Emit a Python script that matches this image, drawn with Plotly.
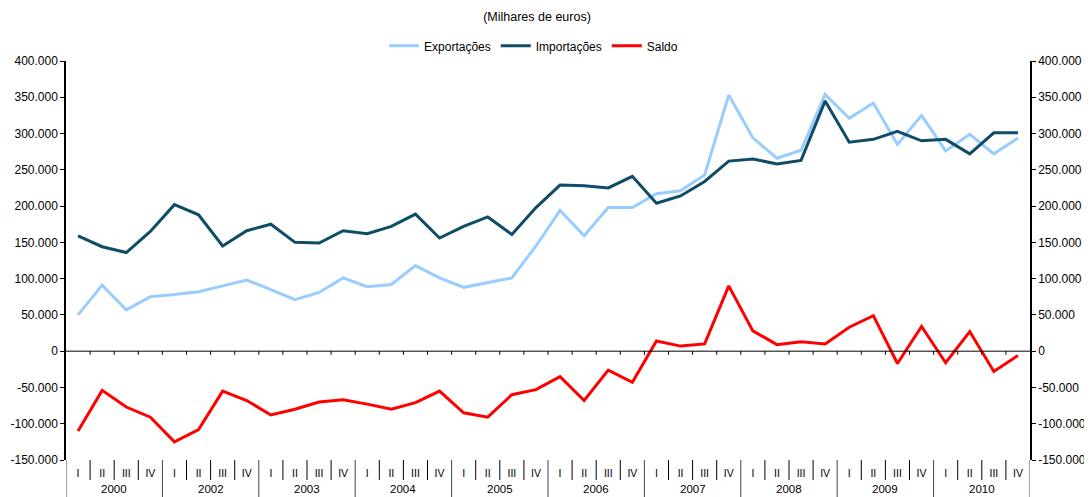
import plotly.graph_objects as go

# Quarterly trade values (thousands of euros)
years = ["2000", "2002", "2003", "2004", "2005", "2006", "2007", "2008", "2009", "2010"]
quarters = ["I", "II", "III", "IV"]

exportacoes = [50, 91, 57, 75, 78, 82, 90, 98, 85, 71,
               81, 101, 89, 92, 118, 101, 88, 94, 101, 145,
               194, 159, 198, 198, 217, 221, 243, 353, 294, 266,
               277, 354, 321, 342, 285, 325, 276, 299, 272, 294]
importacoes = [159, 144, 136, 165, 202, 188, 145, 166, 175, 150,
               149, 166, 162, 172, 189, 156, 172, 185, 161, 198,
               229, 228, 225, 241, 204, 214, 234, 262, 265, 258,
               263, 345, 288, 292, 303, 290, 292, 272, 301, 301]
saldo = [-110, -54, -77, -91, -125, -108, -55, -68, -88, -80,
         -70, -67, -73, -80, -71, -55, -85, -91, -60, -53,
         -35, -68, -26, -43, 14, 7, 10, 90, 28, 9,
         13, 10, 33, 49, -17, 34, -16, 27, -28, -6]

y_ticks = [-150000, -100000, -50000, 0, 50000, 100000, 150000, 200000, 250000, 300000, 350000, 400000]
y_labels = ["-150.000", "-100.000", "-50.000", "0", "50.000", "100.000", "150.000",
            "200.000", "250.000", "300.000", "350.000", "400.000"]

periods = [f"{y} {q}" for y in years for q in quarters]
qlabels = [q for y in years for q in quarters]

def k(vals):
    return [v * 1000 for v in vals]

font = "Liberation Sans"
fig = go.Figure()
fig.add_trace(go.Scatter(x=periods, y=k(exportacoes), mode="lines", name="Exportações",
                         line=dict(color="#99CCFF", width=3)))
fig.add_trace(go.Scatter(x=periods, y=k(importacoes), mode="lines", name="Importações",
                         line=dict(color="#0F4C68", width=3)))
fig.add_trace(go.Scatter(x=periods, y=k(saldo), mode="lines", name="Saldo",
                         line=dict(color="#FF0000", width=3)))
# dummy trace so the right axis gets drawn
fig.add_trace(go.Scatter(x=periods, y=k(saldo), yaxis="y2", mode="lines", opacity=0,
                         showlegend=False, hoverinfo="skip", line=dict(width=0)))

n = len(periods)
shapes = []
# separators below the plot: short between quarters, long between years
for i in range(n + 1):
    x = i - 0.5
    if i % len(quarters) == 0:
        shapes.append(dict(type="line", xref="x", yref="paper", x0=x, x1=x, y0=0, y1=-0.12,
                           line=dict(color="#444444", width=1)))
    else:
        shapes.append(dict(type="line", xref="x", yref="paper", x0=x, x1=x, y0=0, y1=-0.05,
                           line=dict(color="#000000", width=1)))
# small ticks on the zero line
for i in range(1, n):
    shapes.append(dict(type="line", xref="x", yref="y", x0=i - 0.5, x1=i - 0.5, y0=0, y1=-5000,
                       line=dict(color="#000000", width=1)))

annotations = []
for j, y in enumerate(years):
    annotations.append(dict(text=y, xref="x", yref="paper", x=j * len(quarters) + 1.5, y=0,
                            yshift=-21, yanchor="top", showarrow=False,
                            font=dict(family=font, size=11.5, color="#000")))

yax = dict(range=[y_ticks[0], y_ticks[-1]], tickvals=y_ticks, ticktext=y_labels,
           showgrid=False, zeroline=False, showline=True, linecolor="#000", linewidth=1.5,
           ticks="outside", ticklen=4, tickcolor="#000", automargin=False,
           tickfont=dict(family=font, size=12, color="#000"))

# page body has an 8px margin, so the figure is sized to fit inside the window
fig.update_layout(
    width=1084, height=489,
    margin=dict(l=58, r=62, t=53, b=37),
    plot_bgcolor="white", paper_bgcolor="white",
    title=dict(text="(Milhares de euros)", x=0.488, xanchor="center", y=0.982, yanchor="middle",
               font=dict(family=font, size=12.5, color="#000")),
    legend=dict(orientation="h", x=0.485, xanchor="center", y=1.038, yanchor="middle",
                font=dict(family=font, size=12, color="#000"), itemwidth=30,
                bgcolor="rgba(0,0,0,0)"),
    xaxis=dict(type="category", range=[-0.5, n - 0.5], tickvals=periods, ticktext=qlabels,
               showgrid=False, showline=False, ticks="", zeroline=False, automargin=False,
               ticklabelstandoff=5,
               tickfont=dict(family=font, size=10.5, color="#000")),
    yaxis=yax,
    yaxis2=dict(yax, overlaying="y", side="right"),
    shapes=shapes,
    annotations=annotations,
)
fig.add_hline(y=0, line=dict(color="#000", width=1))

fig.write_html("out.html")
